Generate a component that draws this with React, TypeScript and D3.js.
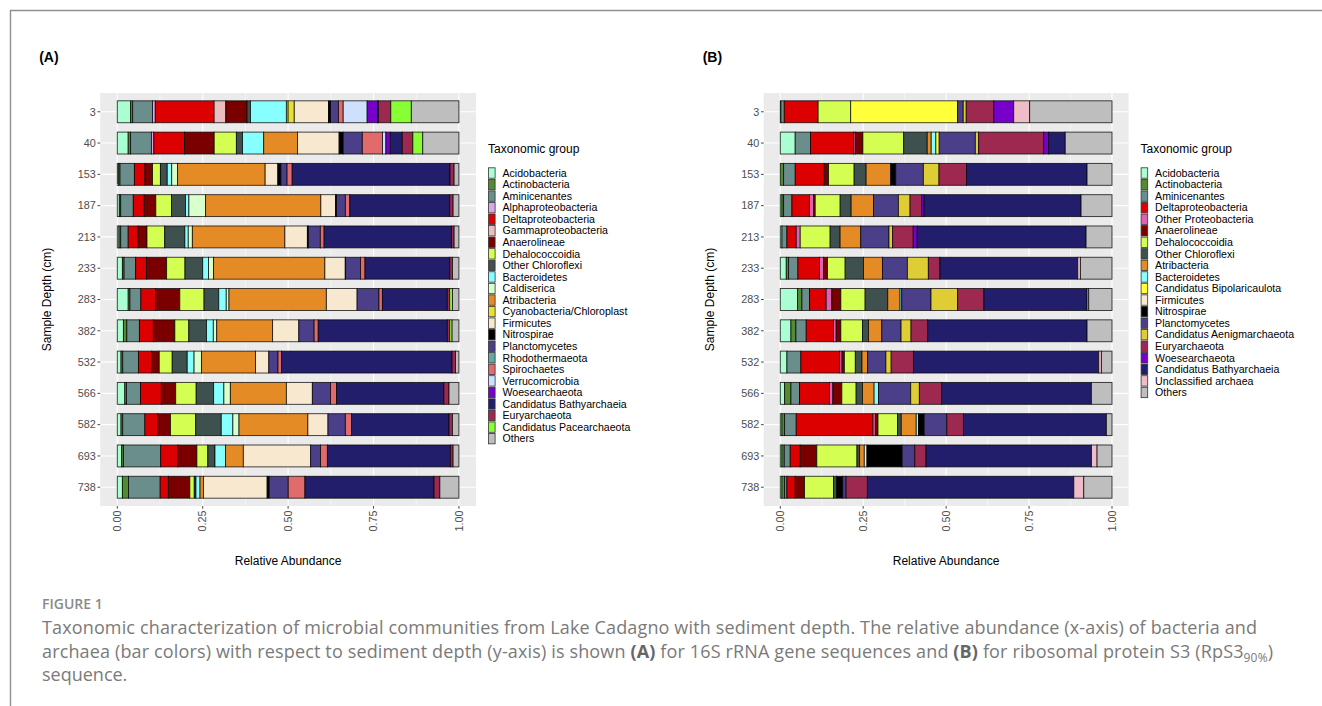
import React from "react";
import * as d3 from "d3";

// sediment depths (cm), top to bottom
const depths = ["3", "40", "153", "187", "213", "233", "283", "382", "532", "566", "582", "693", "738"];

const taxaA = [
  "Acidobacteria", "Actinobacteria", "Aminicenantes", "Alphaproteobacteria", "Deltaproteobacteria",
  "Gammaproteobacteria", "Anaerolineae", "Dehalococcoidia", "Other Chloroflexi", "Bacteroidetes",
  "Caldiserica", "Atribacteria", "Cyanobacteria/Chloroplast", "Firmicutes", "Nitrospirae",
  "Planctomycetes", "Rhodothermaeota", "Spirochaetes", "Verrucomicrobia", "Woesearchaeota",
  "Candidatus Bathyarchaeia", "Euryarchaeota", "Candidatus Pacearchaeota", "Others",
];
const colorsA = [
  "#aaffd2", "#538b33", "#6a8e8b", "#dba6e6", "#dd0000",
  "#ecbdbf", "#7a0000", "#d4ff52", "#3e514e", "#88ffff",
  "#d9ffcc", "#e58b25", "#e9e12f", "#f8e8cf", "#000000",
  "#4a3f88", "#62a9a1", "#e06a6c", "#cde0fd", "#7800cc",
  "#221e6c", "#9d2850", "#88ff35", "#bebebe",
];

// one row per depth, columns follow taxaA
const valuesA = [
  [0.039, 0.006, 0.058, 0.008, 0.172, 0.034, 0.062, 0, 0.010, 0.105, 0.005, 0, 0.018, 0.100, 0.006, 0.023, 0, 0.014, 0.070, 0.030, 0.003, 0.036, 0.060, 0.139],
  [0.032, 0.007, 0.061, 0.007, 0.090, 0, 0.087, 0.065, 0.018, 0.062, 0, 0.099, 0, 0.122, 0.012, 0.056, 0, 0.059, 0.010, 0.013, 0.035, 0.031, 0.029, 0.106],
  [0.003, 0.005, 0.042, 0, 0.031, 0, 0.022, 0.023, 0.020, 0.013, 0.017, 0.256, 0, 0.037, 0.009, 0.018, 0, 0.015, 0, 0, 0.461, 0.012, 0, 0.014],
  [0.006, 0.004, 0.037, 0, 0.032, 0, 0.034, 0.046, 0.041, 0.010, 0.049, 0.338, 0, 0.043, 0.003, 0.026, 0, 0.013, 0, 0, 0.293, 0.010, 0, 0.017],
  [0.005, 0.005, 0.022, 0, 0.029, 0, 0.026, 0.052, 0.059, 0.010, 0.012, 0.271, 0, 0.066, 0.003, 0.035, 0, 0.011, 0, 0, 0.373, 0.008, 0, 0.014],
  [0.015, 0.005, 0.034, 0, 0.032, 0, 0.059, 0.054, 0.052, 0.017, 0.015, 0.327, 0, 0.060, 0.001, 0.044, 0, 0.013, 0, 0, 0.249, 0.008, 0, 0.019],
  [0.032, 0.005, 0.032, 0, 0.043, 0, 0.071, 0.071, 0.043, 0.022, 0.008, 0.285, 0, 0.090, 0, 0.064, 0, 0.010, 0, 0, 0.190, 0.007, 0.008, 0.019],
  [0.018, 0.010, 0.037, 0, 0.041, 0, 0.063, 0.041, 0.052, 0.020, 0.010, 0.164, 0, 0.077, 0, 0.045, 0, 0.012, 0, 0, 0.379, 0.007, 0.007, 0.020],
  [0.011, 0.005, 0.046, 0, 0.039, 0, 0.022, 0.038, 0.044, 0.020, 0.022, 0.158, 0, 0.039, 0, 0.027, 0, 0.010, 0, 0, 0.500, 0.010, 0, 0.010],
  [0.022, 0.005, 0.041, 0, 0.061, 0, 0.042, 0.060, 0.051, 0.030, 0.019, 0.164, 0, 0.076, 0, 0.053, 0, 0.018, 0, 0, 0.314, 0.015, 0, 0.029],
  [0.011, 0.005, 0.065, 0, 0.037, 0, 0.038, 0.074, 0.075, 0.034, 0.018, 0.202, 0, 0.059, 0, 0.051, 0, 0.018, 0, 0, 0.286, 0.010, 0, 0.019],
  [0.013, 0.005, 0.109, 0, 0.050, 0, 0.056, 0.032, 0.021, 0.031, 0, 0.052, 0, 0.197, 0, 0.029, 0, 0.020, 0, 0, 0.360, 0.008, 0, 0.017],
  [0.015, 0.018, 0.093, 0, 0.024, 0, 0.063, 0.013, 0.005, 0.012, 0, 0.010, 0, 0.187, 0.006, 0.056, 0, 0.049, 0, 0, 0.379, 0.017, 0, 0.056],
];

const taxaB = [
  "Acidobacteria", "Actinobacteria", "Aminicenantes", "Deltaproteobacteria", "Other Proteobacteria",
  "Anaerolineae", "Dehalococcoidia", "Other Chloroflexi", "Atribacteria", "Bacteroidetes",
  "Candidatus Bipolaricaulota", "Firmicutes", "Nitrospirae", "Planctomycetes", "Candidatus Aenigmarchaeota",
  "Euryarchaeota", "Woesearchaeota", "Candidatus Bathyarchaeia", "Unclassified archaea", "Others",
];
const colorsB = [
  "#aaffd2", "#538b33", "#6a8e8b", "#dd0000", "#de62b3",
  "#7a0000", "#d4ff52", "#3e514e", "#e58b25", "#88ffff",
  "#ffff3a", "#f8e8cf", "#000000", "#4a3f88", "#dfcd35",
  "#9d2850", "#7800cc", "#221e6c", "#eebdc8", "#bebebe",
];

// one row per depth, columns follow taxaB
const valuesB = [
  [0.002, 0, 0.010, 0.102, 0, 0, 0.098, 0, 0, 0, 0.322, 0, 0, 0.017, 0.009, 0.083, 0.060, 0, 0.048, 0.248],
  [0.045, 0, 0.046, 0.130, 0.005, 0.023, 0.123, 0.071, 0.012, 0.014, 0.010, 0, 0, 0.109, 0.010, 0.196, 0.015, 0.050, 0, 0.141],
  [0, 0.010, 0.035, 0.087, 0, 0.013, 0.077, 0.036, 0.074, 0, 0, 0, 0.015, 0.083, 0.047, 0.083, 0, 0.362, 0, 0.075],
  [0.005, 0.005, 0.025, 0.053, 0.012, 0.005, 0.075, 0.033, 0.067, 0, 0, 0, 0, 0.075, 0.035, 0.035, 0.007, 0.472, 0, 0.093],
  [0.005, 0, 0.015, 0.028, 0.012, 0, 0.090, 0.030, 0.062, 0, 0, 0, 0, 0.085, 0.011, 0.062, 0.012, 0.508, 0, 0.078],
  [0.018, 0.007, 0.028, 0.065, 0.012, 0.012, 0.053, 0.055, 0.057, 0, 0, 0, 0, 0.075, 0.063, 0.035, 0, 0.414, 0.008, 0.095],
  [0.052, 0.013, 0.023, 0.050, 0.017, 0.027, 0.073, 0.068, 0.037, 0.005, 0, 0, 0, 0.088, 0.080, 0.079, 0, 0.310, 0.005, 0.070],
  [0.032, 0.015, 0.031, 0.082, 0.008, 0.014, 0.065, 0.018, 0.040, 0, 0, 0, 0, 0.058, 0.030, 0.050, 0, 0.479, 0, 0.075],
  [0.020, 0, 0.042, 0.117, 0.007, 0.007, 0.033, 0.020, 0.017, 0, 0, 0, 0, 0.055, 0.016, 0.067, 0, 0.558, 0.008, 0.032],
  [0.013, 0.019, 0.026, 0.090, 0.010, 0.027, 0.043, 0.019, 0.035, 0.013, 0, 0, 0, 0.097, 0.026, 0.067, 0, 0.450, 0, 0.062],
  [0.005, 0.008, 0.035, 0.231, 0.007, 0.008, 0.059, 0.011, 0.045, 0.007, 0, 0, 0.017, 0.068, 0, 0.050, 0, 0.430, 0, 0.017],
  [0.005, 0.007, 0.018, 0.030, 0, 0.050, 0.121, 0.008, 0.014, 0, 0, 0.008, 0.106, 0.038, 0, 0.034, 0, 0.498, 0.017, 0.045],
  [0.005, 0.008, 0.007, 0.025, 0, 0.028, 0.087, 0.010, 0, 0, 0, 0, 0.018, 0.010, 0, 0.064, 0, 0.621, 0.030, 0.085],
];

const xTicks = [0, 0.25, 0.5, 0.75, 1];
const xMinor = [0.125, 0.375, 0.625, 0.875];

const FONT = "'Liberation Sans', Arial, Helvetica, sans-serif";
const PANEL_TOP = 93;
const PANEL_BOTTOM = 506;

type PanelProps = {
  tag: string;
  left: number;
  right: number;
  taxa: string[];
  colors: string[];
  values: number[][];
};

const Panel = ({ tag, left, right, taxa, colors, values }: PanelProps) => {
  const x = d3.scaleLinear().domain([-0.05, 1.05]).range([left, right]);
  const y = d3.scaleBand<string>()
    .domain(depths)
    .range([PANEL_TOP, PANEL_BOTTOM])
    .paddingInner(0.3)
    .paddingOuter(0.25);
  const color = d3.scaleOrdinal<string, string>().domain(taxa).range(colors);

  // relative abundance table, each depth normalised to 1
  const rows = depths.map((d, i) => {
    const total = d3.sum(values[i]);
    const row: Record<string, any> = { depth: d };
    taxa.forEach((t, j) => (row[t] = values[i][j] / total));
    return row;
  });
  const series = d3.stack<Record<string, any>>().keys(taxa)(rows);

  const legendX = right + 12;
  const keyStep = 11.55;
  const bw = y.bandwidth();

  return (
    <g>
      <text x={left - 61} y={62} fontFamily={FONT} fontWeight="bold" fontSize={14}>({tag})</text>

      <rect x={left} y={PANEL_TOP} width={right - left} height={PANEL_BOTTOM - PANEL_TOP} fill="#ebebeb" />
      {xMinor.map((t) => (
        <line key={"m" + t} x1={x(t)} x2={x(t)} y1={PANEL_TOP} y2={PANEL_BOTTOM} stroke="#fff" strokeWidth={0.5} />
      ))}
      {xTicks.map((t) => (
        <line key={"g" + t} x1={x(t)} x2={x(t)} y1={PANEL_TOP} y2={PANEL_BOTTOM} stroke="#fff" strokeWidth={1.1} />
      ))}
      {depths.map((d) => (
        <line key={"h" + d} x1={left} x2={right} y1={y(d)! + bw / 2} y2={y(d)! + bw / 2} stroke="#fff" strokeWidth={1.1} />
      ))}

      {series.map((s) => (
        <g key={s.key} fill={color(s.key)}>
          {s.map((seg, i) =>
            seg[1] - seg[0] > 0 ? (
              <rect
                key={i}
                x={x(seg[0])}
                y={y(depths[i])}
                width={x(seg[1]) - x(seg[0])}
                height={bw}
                stroke="#000"
                strokeOpacity={0.8}
                strokeWidth={0.9}
              />
            ) : null
          )}
        </g>
      ))}

      {/* y axis */}
      {depths.map((d) => (
        <g key={"yt" + d} transform={`translate(0,${y(d)! + bw / 2})`}>
          <line x1={left - 2.7} x2={left} stroke="#333" strokeWidth={0.9} />
          <text x={left - 4.5} dy="0.35em" textAnchor="end" fontFamily={FONT} fontSize={10.8} fill="#4d4d4d">{d}</text>
        </g>
      ))}
      {/* x axis */}
      {xTicks.map((t) => (
        <g key={"xt" + t} transform={`translate(${x(t)},${PANEL_BOTTOM})`}>
          <line y1={0} y2={2.7} stroke="#333" strokeWidth={0.9} />
          <text transform="translate(0,4.5) rotate(-90)" dy="0.35em" textAnchor="end" fontFamily={FONT} fontSize={10.8} fill="#4d4d4d">
            {d3.format(".2f")(t)}
          </text>
        </g>
      ))}

      <text x={(left + right) / 2} y={565} textAnchor="middle" fontFamily={FONT} fontSize={12}>Relative Abundance</text>
      <text
        transform={`translate(${left - 53.5},${(PANEL_TOP + PANEL_BOTTOM) / 2}) rotate(-90)`}
        dy="0.35em"
        textAnchor="middle"
        fontFamily={FONT}
        fontSize={12}
      >
        Sample Depth (cm)
      </text>

      {/* legend */}
      <text x={legendX} y={153} fontFamily={FONT} fontSize={12}>Taxonomic group</text>
      {taxa.map((t, i) => (
        <g key={"lg" + t} transform={`translate(${legendX},${173 + i * keyStep})`}>
          <rect x={0.5} y={-5.2} width={6.6} height={10.4} fill={color(t)} stroke="#333" strokeWidth={0.8} />
          <text x={14.5} dy="0.35em" fontFamily={FONT} fontSize={10.6} fill="#000">{t}</text>
        </g>
      ))}
    </g>
  );
};

export default function App() {
  const capFont = "'Open Sans', 'Noto Sans', sans-serif";
  return (
    <svg width={1322} height={706} style={{ position: "absolute", left: 0, top: 0, background: "#fff" }}>
      <path d="M10.5,706 L10.5,10.5 L1322,10.5" fill="none" stroke="#8f8f8f" strokeWidth={1.4} />

      <Panel tag="A" left={100.2} right={476} taxa={taxaA} colors={colorsA} values={valuesA} />
      <Panel tag="B" left={763.7} right={1128.6} taxa={taxaB} colors={colorsB} values={valuesB} />

      <text x={42} y={609} fontFamily={capFont} fontWeight={600} fontSize={14} fill="#8a8a8a">FIGURE 1</text>
      <g fontFamily={capFont} fontSize={18} fill="#7a7a7a">
        <text x={42} y={634} textLength={1215} lengthAdjust="spacing">
          Taxonomic characterization of microbial communities from Lake Cadagno with sediment depth. The relative abundance (x-axis) of bacteria and
        </text>
        <text x={42} y={658} textLength={1231} lengthAdjust="spacing">
          archaea (bar colors) with respect to sediment depth (y-axis) is shown <tspan fontWeight="bold" fill="#666">(A)</tspan> for 16S rRNA gene sequences and{" "}
          <tspan fontWeight="bold" fill="#666">(B)</tspan> for ribosomal protein S3 (RpS3<tspan fontSize={12} dy={4}>90%</tspan>
          <tspan dy={-4}>)</tspan>
        </text>
        <text x={42} y={681}>sequence.</text>
      </g>
    </svg>
  );
}
